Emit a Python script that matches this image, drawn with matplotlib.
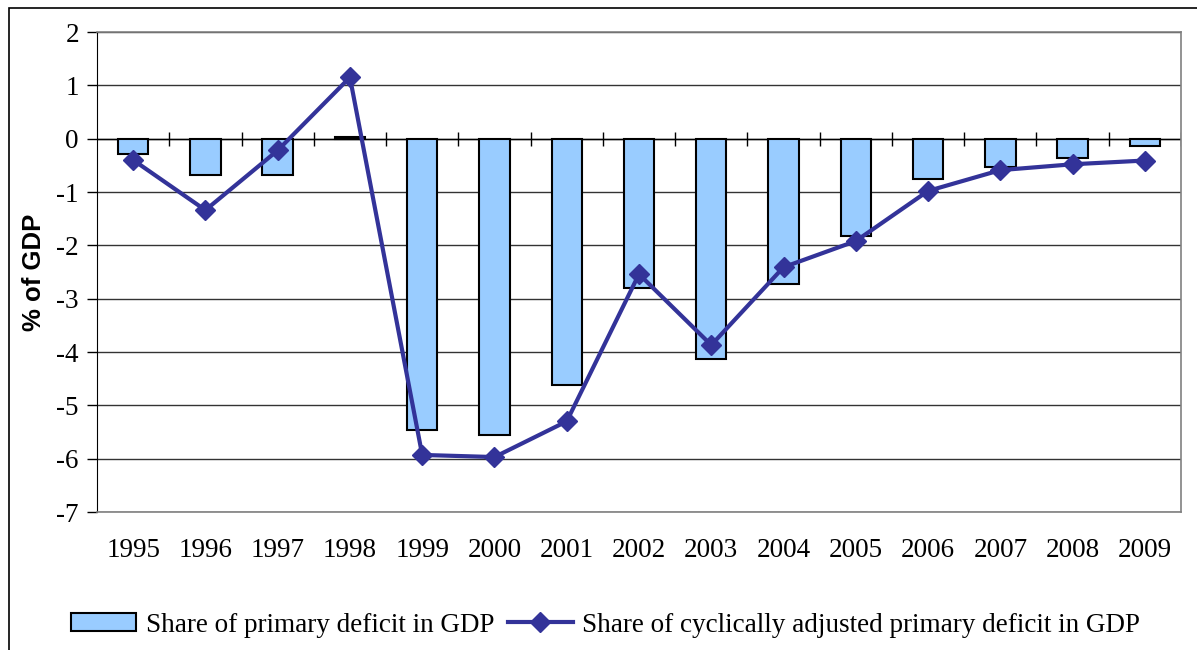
import numpy as np
import matplotlib
from matplotlib import pyplot as plt
from matplotlib.patches import Rectangle

years = ['1995', '1996', '1997', '1998', '1999', '2000', '2001', '2002',
         '2003', '2004', '2005', '2006', '2007', '2008', '2009']
primary_deficit = [-0.28, -0.68, -0.68, 0.03, -5.47, -5.56, -4.62, -2.80,
                   -4.13, -2.73, -1.83, -0.76, -0.53, -0.36, -0.14]
cyclically_adjusted = [-0.40, -1.34, -0.22, 1.15, -5.93, -5.97, -5.30, -2.54,
                       -3.87, -2.41, -1.92, -0.98, -0.59, -0.48, -0.41]


def main():
  matplotlib.rc('font', family=['Liberation Serif', 'DejaVu Serif'], size=19.5)
  matplotlib.rc('axes', unicode_minus=False)

  fig = plt.figure(figsize=(11.97, 6.5), dpi=100)
  # outer chart frame
  fig.patches.append(Rectangle((9 / 1197, -0.01), 1.0, 1 - 8 / 650 + 0.01,
                               transform=fig.transFigure, fill=False,
                               edgecolor='black', linewidth=1.2))

  ax = fig.add_axes([97 / 1197, 1 - 512 / 650, 1084 / 1197, 480 / 650])
  x = np.arange(len(years))

  ax.set_axisbelow(True)
  ax.yaxis.grid(True, color='#333333', linewidth=1)
  bar = ax.bar(x, primary_deficit, width=0.42, color='#99CCFF',
               edgecolor='black', linewidth=1.5, zorder=3)
  line, = ax.plot(x, cyclically_adjusted, color='#333399', linewidth=3,
                  marker='D', markersize=10.5, zorder=4)

  # category axis at zero with tick marks between categories
  ax.axhline(0, color='black', linewidth=1, zorder=2)
  ax.vlines(np.arange(1, len(years) + 1) - 0.5, -0.13, 0.13,
            color='black', linewidth=1, zorder=2)

  ax.set_xlim(-0.5, len(years) - 0.5)
  ax.set_ylim(-7, 2)
  ax.set_yticks(range(-7, 3))
  ax.set_xticks(x)
  ax.set_xticklabels(years)
  ax.tick_params(axis='x', length=0, pad=19)
  ax.tick_params(axis='y', length=7, width=1, direction='out', pad=6)

  for side in ['top', 'right', 'bottom']:
    ax.spines[side].set_color('#808080')
    ax.spines[side].set_linewidth(1.2)
  ax.spines['left'].set_color('black')

  ax.set_ylabel('% of GDP', family='Liberation Sans', fontweight='bold',
                fontsize=18.5)
  ax.yaxis.set_label_coords(-0.047, 0.5)

  fig.legend([bar, line],
             ['Share of primary deficit in GDP',
              'Share of cyclically adjusted primary deficit in GDP'],
             loc='center', bbox_to_anchor=(0.506, 1 - 625 / 650), ncol=2,
             frameon=False, handlelength=2.4, handleheight=0.6,
             columnspacing=0.5, handletextpad=0.35, fontsize=19.5)

  fig.savefig('out.png', dpi=100)


if __name__ == '__main__':
  main()
